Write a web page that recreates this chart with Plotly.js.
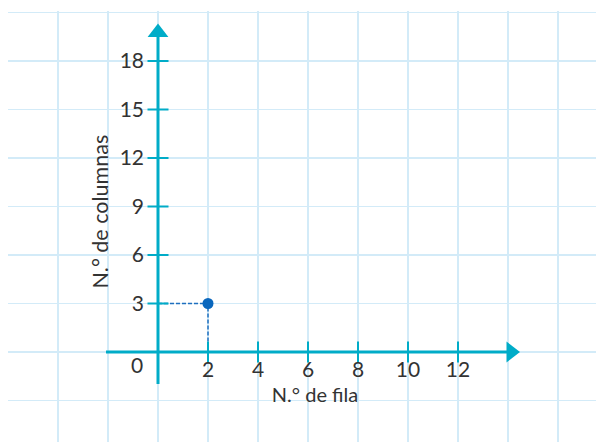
<!DOCTYPE html>
<html>
<head>
<meta charset="utf-8">
<script src="https://cdn.plot.ly/plotly-3.0.1.min.js"></script>
<style>html,body{margin:0;padding:0;background:#fff;}#chart{width:596px;height:442px;}</style>
</head>
<body>
<div id="chart"></div>
<script>
// ---- data ----
const xTicks = [2, 4, 6, 8, 10, 12];
const yTicks = [3, 6, 9, 12, 15, 18];
const pointX = [2];
const pointY = [3];
const xTitle = 'N.° de fila';
const yTitle = 'N.° de columnas';
const originLabel = '0';

// ---- layout geometry (pixels) ----
const W = 596, H = 442;
const ox = 158, oy = 352, sx = 25, sy = 291 / 18;
const xr = (p0, p1) => [(p0 - ox) / sx, (p1 - ox) / sx];
const yr = (pb, pt) => [(oy - pb) / sy, (oy - pt) / sy];

const teal = '#00acc8';
const gridCol = '#d3ebf8';
const txt = '#333333';
const font = 'Lato, "Open Sans", sans-serif';

const axisMin = -2.08, yAxisMin = -1.98;
const xArrowPos = 14.12, yArrowPos = 19.77;

const traces = [
  {x: [], y: [], xaxis: 'x', yaxis: 'y', type: 'scatter', hoverinfo: 'skip', showlegend: false},
  // dashed guides
  {x: [0, pointX[0], pointX[0]], y: [pointY[0], pointY[0], 0], xaxis: 'x2', yaxis: 'y2',
   mode: 'lines', line: {color: '#1f6fbf', width: 1.5, dash: '4px,2px'}, showlegend: false, hoverinfo: 'skip'},
  // x tick marks
  {x: xTicks, y: xTicks.map(() => 0), xaxis: 'x2', yaxis: 'y2', mode: 'markers',
   marker: {symbol: 'line-ns', size: 15, line: {color: teal, width: 2}}, showlegend: false, hoverinfo: 'skip'},
  // y tick marks
  {x: yTicks.map(() => 0), y: yTicks, xaxis: 'x2', yaxis: 'y2', mode: 'markers',
   marker: {symbol: 'line-ew', size: 15, line: {color: teal, width: 2}}, showlegend: false, hoverinfo: 'skip'},
  // arrows
  {x: [xArrowPos, 0], y: [0, yArrowPos], xaxis: 'x2', yaxis: 'y2', mode: 'markers', cliponaxis: false,
   marker: {symbol: ['triangle-right', 'triangle-up'], size: 18, color: teal, line: {width: 0}},
   showlegend: false, hoverinfo: 'skip'},
  // the point
  {x: pointX, y: pointY, xaxis: 'x2', yaxis: 'y2', mode: 'markers',
   marker: {size: 11, color: '#0a67bd'}, showlegend: false, hoverinfo: 'skip'}
];

const layout = {
  width: W, height: H, autosize: false,
  margin: {l: 0, r: 0, t: 0, b: 0, pad: 0},
  paper_bgcolor: '#ffffff', plot_bgcolor: 'rgba(0,0,0,0)',
  font: {family: font, color: txt},
  showlegend: false,
  xaxis: {domain: [8 / W, 1], range: xr(8, W), tick0: 0, dtick: 2, showgrid: true,
          gridcolor: gridCol, gridwidth: 1.5, zeroline: false, showticklabels: false,
          ticks: '', showline: false, fixedrange: true},
  yaxis: {domain: [0, (H - 11) / H], range: yr(H, 11), tick0: 0, dtick: 3, showgrid: true,
          gridcolor: gridCol, gridwidth: 1.5, zeroline: false, showticklabels: false,
          ticks: '', showline: false, fixedrange: true},
  xaxis2: {domain: [106 / W, 524 / W], range: xr(106, 524), anchor: 'free', position: (H - oy) / H,
           tickmode: 'array', tickvals: xTicks, ticktext: xTicks.map(String), ticks: '',
           ticklabelstandoff: 3, tickfont: {size: 21, color: txt, family: font},
           showgrid: false, zeroline: false, showline: false, fixedrange: true,
           title: {text: xTitle, font: {size: 20, color: txt, family: font}, standoff: 7}},
  yaxis2: {domain: [(H - 403.4) / H, (H - 20) / H], range: yr(403.4, 20), anchor: 'free', position: ox / W,
           tickmode: 'array', tickvals: yTicks, ticktext: yTicks.map(String), ticks: '',
           ticklabelstandoff: 14, tickfont: {size: 21, color: txt, family: font},
           showgrid: false, zeroline: false, showline: false, fixedrange: true,
           title: {text: yTitle, font: {size: 21.5, color: txt, family: font}, standoff: 4}},
  shapes: [
    {type: 'line', xref: 'x2', yref: 'y2', x0: axisMin, x1: xArrowPos - 0.1, y0: 0, y1: 0,
     line: {color: teal, width: 3}, layer: 'above'},
    {type: 'line', xref: 'x2', yref: 'y2', x0: 0, x1: 0, y0: yAxisMin, y1: yArrowPos - 0.2,
     line: {color: teal, width: 3}, layer: 'above'}
  ],
  annotations: [
    {xref: 'x2', yref: 'y2', x: 0, y: 0, text: originLabel, showarrow: false,
     xanchor: 'center', yanchor: 'middle', xshift: -21.5, yshift: -12,
     font: {size: 21, color: txt, family: font}}
  ]
};

Plotly.newPlot('chart', traces, layout, {displayModeBar: false, staticPlot: true});
</script>
</body>
</html>
